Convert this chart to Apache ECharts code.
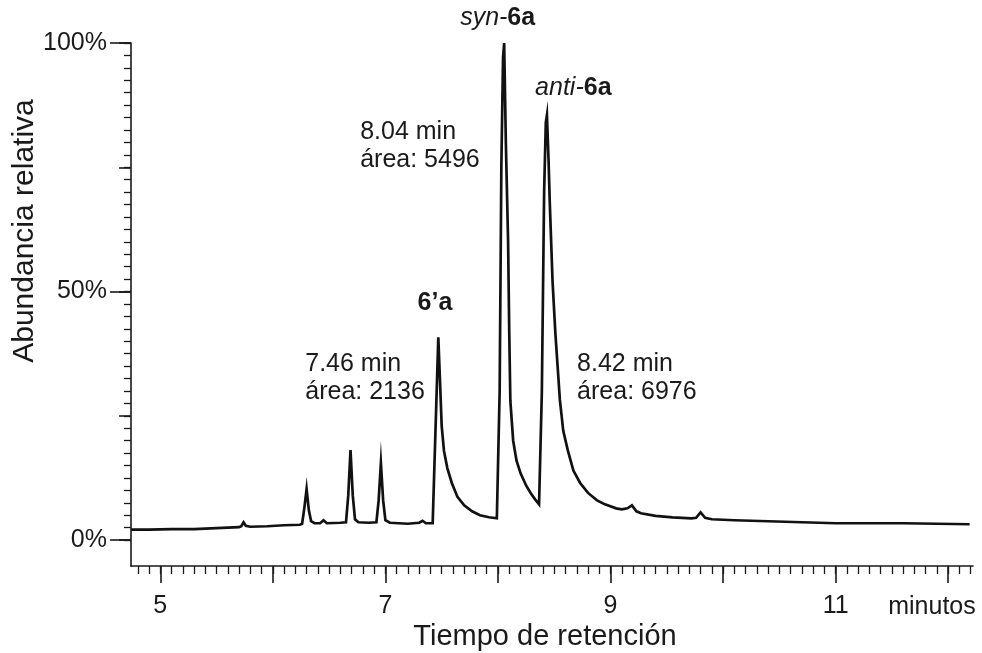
<!DOCTYPE html>
<html>
<head>
<meta charset="utf-8">
<script src="https://cdn.jsdelivr.net/npm/echarts@6/dist/echarts.min.js"></script>
<style>
  html, body { margin: 0; padding: 0; background: #fff; }
  #main { width: 982px; height: 653px; }
</style>
</head>
<body>
<div id="main"></div>
<script>
var tiempo = [
  4.74, 4.90, 5.10, 5.30, 5.50, 5.70, 5.72, 5.74, 5.76, 5.80, 5.95, 6.10, 6.24,
  6.26, 6.28, 6.30, 6.32, 6.34, 6.37, 6.42, 6.45, 6.48, 6.60,
  6.65, 6.67, 6.69, 6.71, 6.73, 6.76, 6.85,
  6.92, 6.94, 6.96, 6.98, 7.00, 7.04, 7.20, 7.30, 7.33, 7.36, 7.42,
  7.47, 7.485, 7.50, 7.52, 7.55, 7.59, 7.64, 7.70, 7.77, 7.84, 7.92, 7.99,
  8.005, 8.015, 8.03, 8.045, 8.055, 8.07, 8.09, 8.10, 8.11, 8.135, 8.165, 8.20,
  8.25, 8.29, 8.33, 8.365, 8.38,
  8.39, 8.41, 8.425, 8.435, 8.45, 8.46, 8.485, 8.51, 8.55, 8.58, 8.62, 8.67,
  8.73, 8.80, 8.88, 8.95, 9.05, 9.10, 9.15, 9.19, 9.23, 9.27, 9.40, 9.55,
  9.72, 9.76, 9.80, 9.84, 9.90, 10.10, 10.40, 10.70, 11.00, 11.30, 11.60,
  11.90, 12.19
];
var abundancia = [
  2.1, 2.1, 2.2, 2.2, 2.4, 2.6, 2.8, 3.6, 2.9, 2.7, 2.8, 3.0, 3.1,
  3.3, 6.5, 10.3, 6.0, 3.8, 3.4, 3.4, 4.0, 3.4, 3.5,
  3.6, 9.0, 18.1, 9.0, 4.2, 3.6, 3.5,
  3.6, 8.0, 15.5, 8.0, 4.0, 3.5, 3.3, 3.5, 3.9, 3.4, 3.4,
  40.8, 32, 23, 18, 14.5, 11.5, 8.7, 7.0, 5.8, 5.0, 4.6, 4.4,
  4.6, 30, 75, 97, 100, 80, 60, 42, 28, 20, 16, 13.5,
  11, 9.5, 8.2, 7.2, 7.0,
  30, 70, 84, 85.5, 76, 68, 52, 41.6, 28.2, 22, 18.1, 14,
  11.5, 9.5, 8.0, 7.2, 6.4, 6.2, 6.4, 7.0, 5.8, 5.4, 4.9, 4.6,
  4.4, 4.5, 5.6, 4.5, 4.2, 4.0, 3.8, 3.6, 3.4, 3.4, 3.4,
  3.3, 3.2
];

// marcas de los ejes
var ejeXMayor = [5, 6, 7, 8, 9, 10, 11, 12];
var ejeXEtiquetas = [5, 7, 9, 11];
var ejeYMayor = [0, 25, 50, 75, 100];
var ejeYEtiquetas = [0, 50, 100];
var ejeYMenor = [];
for (var j = 0; j <= 40; j++) ejeYMenor.push(j * 2.5);

// anotaciones: [tiempo, abundancia, texto]
var anotaciones = [
  [7.664, 105, '{i|syn-}{b|6a}'],
  [8.33, 90.9, '{i|anti-}{b|6a}'],
  [7.44, 47.7, '{b|6’a}'],
  [6.776, 79.3, '8.04 min\nárea: 5496'],
  [6.288, 32.5, '7.46 min\nárea: 2136'],
  [8.703, 32.5, '8.42 min\nárea: 6976']
];

var traza = tiempo.map(function (t, k) { return [t, abundancia[k]]; });

var fuente = 'Liberation Sans, Arial, sans-serif';
var tinta = '#1a1a1a';

// rejilla principal
var xMin = 4.74, xMax = 12.22;
var gLeft = 131, gRight = 9, gTop = 43, gBottom = 87;
var pxPorMin = (982 - gLeft - gRight) / (xMax - xMin);

// rejillas auxiliares con la misma escala: marcas menores cada 0.2 min desde 4.8 y desde 4.9
function rejilla(a, b) {
  return {
    left: gLeft + (a - xMin) * pxPorMin,
    right: gRight + (xMax - b) * pxPorMin,
    top: gTop, bottom: gBottom
  };
}

function ejeX(extra) {
  var base = {
    type: 'value', min: xMin, max: xMax, position: 'bottom', gridIndex: 0,
    axisLine: { show: false, onZero: false },
    splitLine: { show: false },
    axisLabel: { show: false },
    axisTick: { show: false }
  };
  return Object.assign(base, extra);
}
function ejeY(extra) {
  var base = {
    type: 'value', min: -5.2, max: 100, position: 'left', gridIndex: 0,
    axisLine: { show: false, onZero: false },
    splitLine: { show: false },
    axisLabel: { show: false },
    axisTick: { show: false }
  };
  return Object.assign(base, extra);
}

var chart = echarts.init(document.getElementById('main'));

var option = {
  animation: false,
  backgroundColor: '#fff',
  grid: [
    { left: gLeft, right: gRight, top: gTop, bottom: gBottom },
    rejilla(4.8, 12.2),
    rejilla(4.9, 12.1)
  ],
  xAxis: [
    ejeX({
      axisLine: { show: true, onZero: false, lineStyle: { color: tinta, width: 1.6 } },
      axisTick: { show: true, customValues: ejeXMayor, length: 17, lineStyle: { color: tinta, width: 1.6 } },
      axisLabel: { show: true, customValues: ejeXEtiquetas, margin: 28, fontSize: 25, color: tinta, fontFamily: fuente }
    }),
    ejeX({
      gridIndex: 1, min: 4.8, max: 12.2, interval: 0.2,
      axisTick: { show: true, length: 8, lineStyle: { color: tinta, width: 1.3 } }
    }),
    ejeX({
      gridIndex: 2, min: 4.9, max: 12.1, interval: 0.2,
      axisTick: { show: true, length: 8, lineStyle: { color: tinta, width: 1.3 } }
    })
  ],
  yAxis: [
    ejeY({
      axisLine: { show: true, onZero: false, lineStyle: { color: tinta, width: 1.6 } },
      axisTick: { show: true, customValues: ejeYMayor, length: 12, lineStyle: { color: tinta, width: 1.6 } },
      axisLabel: {
        show: true, customValues: ejeYEtiquetas, margin: 24, fontSize: 25, color: tinta, fontFamily: fuente,
        formatter: function (v) { return v + '%'; }
      }
    }),
    ejeY({
      axisTick: { show: true, customValues: ejeYEtiquetas, length: 21, lineStyle: { color: tinta, width: 1.6 } }
    }),
    ejeY({
      axisTick: { show: true, customValues: ejeYMenor, length: 7, lineStyle: { color: tinta, width: 1.3 } }
    }),
    ejeY({ gridIndex: 1 }),
    ejeY({ gridIndex: 2 })
  ],
  series: [
    {
      type: 'line',
      xAxisIndex: 0,
      yAxisIndex: 0,
      data: traza,
      symbol: 'none',
      lineStyle: { color: '#111', width: 2.7, join: 'miter', miterLimit: 20 },
      silent: true
    },
    {
      type: 'scatter',
      xAxisIndex: 0,
      yAxisIndex: 0,
      clip: false,
      symbolSize: 0,
      silent: true,
      itemStyle: { opacity: 1 },
      data: anotaciones.map(function (a) {
        var centrado = a[2].indexOf('6’a') >= 0;
        return {
          value: [a[0], a[1]],
          label: {
            show: true,
            position: [0, 0],
            align: centrado ? 'center' : 'left',
            verticalAlign: 'middle',
            formatter: a[2],
            fontSize: 25,
            lineHeight: 28,
            color: tinta,
            fontFamily: fuente,
            rich: {
              i: { fontStyle: 'italic', fontSize: 25, color: tinta, fontFamily: fuente },
              b: { fontWeight: 'bold', fontSize: 25, color: tinta, fontFamily: fuente }
            }
          }
        };
      })
    }
  ],
  graphic: [
    {
      type: 'text', x: 25, y: 231, rotation: Math.PI / 2,
      style: { text: 'Abundancia relativa', fontSize: 30, fontFamily: fuente, fill: tinta, align: 'center', verticalAlign: 'middle' }
    },
    {
      type: 'text', x: 545, y: 637,
      style: { text: 'Tiempo de retención', fontSize: 29, fontFamily: fuente, fill: tinta, align: 'center', verticalAlign: 'middle' }
    },
    {
      type: 'text', x: 932, y: 607,
      style: { text: 'minutos', fontSize: 25, fontFamily: fuente, fill: tinta, align: 'center', verticalAlign: 'middle' }
    }
  ]
};

chart.setOption(option);
</script>
</body>
</html>
